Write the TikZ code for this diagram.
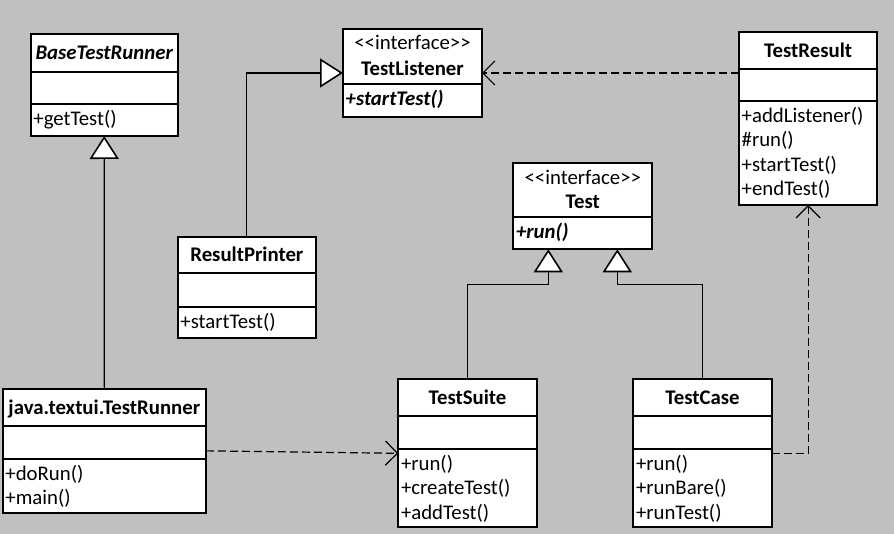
\documentclass[tikz,border=0pt]{standalone}
\usepackage{fontspec}
\setmainfont{Carlito}[Ligatures=TeXOff]
\usetikzlibrary{arrows.meta,calc}
\definecolor{bg}{RGB}{192,192,192}
\newcommand\umlsz{\fontsize{20.8}{24}\selectfont}
\tikzset{
  cls/.style={draw, fill=white, line width=1.8pt, rectangle, inner sep=0pt, outer sep=0pt, anchor=north west},
  sepline/.style={line width=1.8pt},
  hd/.style={font=\umlsz\bfseries, anchor=base, inner sep=0pt},
  st/.style={font=\umlsz, anchor=base, inner sep=0pt},
  mt/.style={font=\umlsz, anchor=base west, inner sep=0pt},
  gen/.style={line width=1.2pt, -{Triangle[length=23pt,width=29pt,fill=white,line width=1.6pt]}},
  dep/.style={line width=1.2pt, dash pattern=on 8pt off 4pt, -{Straight Barb[length=12pt,width=24pt,line width=1.2pt]}},
}
\begin{document}
\begin{tikzpicture}[x=1pt,y=-1pt]
\useasboundingbox (0,0) rectangle (894,534);
\fill[bg] (0,0) rectangle (894,534);

% BaseTestRunner
\node[cls, minimum width=147pt, minimum height=102pt] (btr) at (30.7,34) {};
\draw[sepline] (btr.west |- 0,71.7) -- (btr.east |- 0,71.7);
\draw[sepline] (btr.west |- 0,104) -- (btr.east |- 0,104);
\node[hd] (btrN) at (btr.north |- 0,59.5) {\itshape BaseTestRunner};
\node[mt] (btrM1) at (33.2,125.5) {+getTest()};

% TestListener
\node[cls, minimum width=139pt, minimum height=87.4pt] (tl) at (343,29.3) {};
\draw[sepline] (tl.west |- 0,84.3) -- (tl.east |- 0,84.3);
\node[st] (tlS) at (tl.north |- 0,49.5) {<<interface>>};
\node[hd] (tlN) at (tl.north |- 0,75.5) {TestListener};
\node[mt] (tlM1) at (345.5,105.8) {\bfseries\itshape +startTest()};

% TestResult
\node[cls, minimum width=138.3pt, minimum height=172.7pt] (tres) at (739,32.3) {};
\draw[sepline] (tres.west |- 0,69.3) -- (tres.east |- 0,69.3);
\draw[sepline] (tres.west |- 0,101) -- (tres.east |- 0,101);
\node[hd] (tresN) at (tres.north |- 0,57.5) {TestResult};
\node[mt] (tresM1) at (741.5,122.5) {+addListener()};
\node[mt] (tresM2) at (741.5,146.9) {\#run()};
\node[mt] (tresM3) at (741.5,171.3) {+startTest()};
\node[mt] (tresM4) at (741.5,195.7) {+endTest()};

% Test
\node[cls, minimum width=139pt, minimum height=86pt] (test) at (513.3,163.3) {};
\draw[sepline] (test.west |- 0,217.3) -- (test.east |- 0,217.3);
\node[st] (testS) at (test.north |- 0,184.3) {<<interface>>};
\node[hd] (testN) at (test.north |- 0,208.3) {Test};
\node[mt] (testM1) at (515.8,238.8) {\bfseries\itshape +run()};

% ResultPrinter
\node[cls, minimum width=138.3pt, minimum height=101.6pt] (rp) at (177.7,236.7) {};
\draw[sepline] (rp.west |- 0,273.3) -- (rp.east |- 0,273.3);
\draw[sepline] (rp.west |- 0,306.7) -- (rp.east |- 0,306.7);
\node[hd] (rpN) at (rp.north |- 0,261.7) {ResultPrinter};
\node[mt] (rpM1) at (180.2,328.2) {+startTest()};

% java.textui.TestRunner
\node[cls, minimum width=203.3pt, minimum height=123.7pt] (tr) at (2.7,389) {};
\draw[sepline] (tr.west |- 0,426) -- (tr.east |- 0,426);
\draw[sepline] (tr.west |- 0,458.7) -- (tr.east |- 0,458.7);
\node[hd] (trN) at (tr.north |- 0,414.2) {java.textui.TestRunner};
\node[mt] (trM1) at (5.2,480.2) {+doRun()};
\node[mt] (trM2) at (5.2,504.6) {+main()};

% TestSuite
\node[cls, minimum width=138.4pt, minimum height=148pt] (ts) at (398.3,379.3) {};
\draw[sepline] (ts.west |- 0,416) -- (ts.east |- 0,416);
\draw[sepline] (ts.west |- 0,449) -- (ts.east |- 0,449);
\node[hd] (tsN) at (ts.north |- 0,404.4) {TestSuite};
\node[mt] (tsM1) at (400.8,470.5) {+run()};
\node[mt] (tsM2) at (400.8,494.9) {+createTest()};
\node[mt] (tsM3) at (400.8,519.3) {+addTest()};

% TestCase
\node[cls, minimum width=138.4pt, minimum height=148pt] (tc) at (633.3,379.3) {};
\draw[sepline] (tc.west |- 0,416) -- (tc.east |- 0,416);
\draw[sepline] (tc.west |- 0,449) -- (tc.east |- 0,449);
\node[hd] (tcN) at (tc.north |- 0,404.4) {TestCase};
\node[mt] (tcM1) at (635.8,470.5) {+run()};
\node[mt] (tcM2) at (635.8,494.9) {+runBare()};
\node[mt] (tcM3) at (635.8,519.3) {+runTest()};

% connectors
\coordinate (tA) at ($(test.south)+(-34.5,0)$);
\coordinate (tB) at ($(test.south)+(34.5,0)$);
\draw[gen] (tr.north) -- (btr.south);
\draw[gen] (rp.north) |- (tl.west);
\draw[dep] (tres.west |- tl.east) -- (tl.east);
\draw[gen] (ts.north) |- (tA |- 0,284.3) -- (tA);
\draw[gen] (tc.north) |- (tB |- 0,284.3) -- (tB);
\draw[dep] (tc.east) -| (tres.south);
\draw[dep] (tr.east) -- (ts.west);
\end{tikzpicture}
\end{document}
